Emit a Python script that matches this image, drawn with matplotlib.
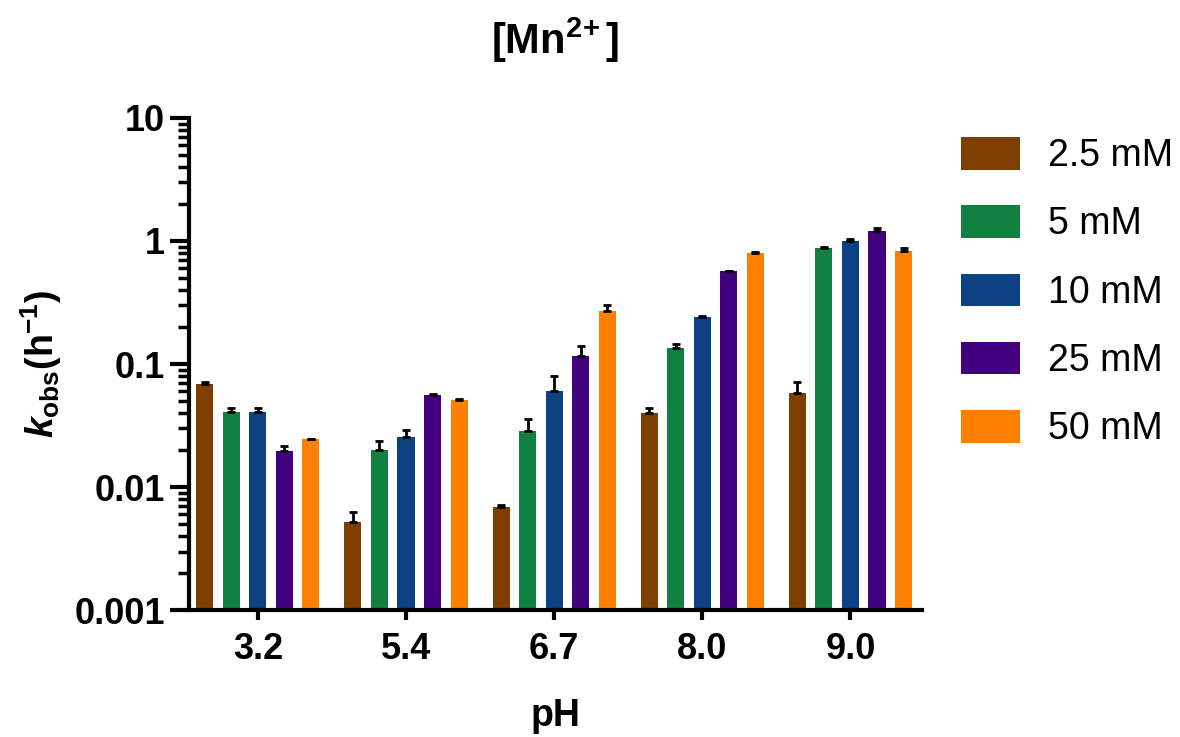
"""
Bar chart of k_obs vs pH for several [Mn2+] concentrations (log scale).
"""

import matplotlib
matplotlib.use('Agg')
import matplotlib.pyplot as plt
import numpy as np

# ===== DATA =====
ph_labels = ['3.2', '5.4', '6.7', '8.0', '9.0']
conc_labels = ['2.5 mM', '5 mM', '10 mM', '25 mM', '50 mM']
colors = ['#7f3f00', '#108040', '#0c4284', '#42007f', '#ff8000']

k_2p5mM = [0.069, 0.0052, 0.0069, 0.040, 0.058]
k_5mM = [0.041, 0.020, 0.0285, 0.134, 0.885]
k_10mM = [0.041, 0.0257, 0.0605, 0.240, 1.00]
k_25mM = [0.0196, 0.0558, 0.117, 0.571, 1.21]
k_50mM = [0.0247, 0.0508, 0.271, 0.801, 0.836]

# upper error (SD) only, as in the original figure
err_2p5mM = [0.0025, 0.0011, 0.0003, 0.004, 0.013]
err_5mM = [0.0027, 0.0035, 0.007, 0.012, 0.015]
err_10mM = [0.0027, 0.0032, 0.019, 0.005, 0.03]
err_25mM = [0.0019, 0.001, 0.022, 0.004, 0.07]
err_50mM = [0.0, 0.001, 0.032, 0.019, 0.034]

series = [k_2p5mM, k_5mM, k_10mM, k_25mM, k_50mM]
errors = [err_2p5mM, err_5mM, err_10mM, err_25mM, err_50mM]

# ===== FONTS =====
plt.rcParams['font.family'] = ['Liberation Sans', 'DejaVu Sans']
plt.rcParams['font.weight'] = 'bold'
plt.rcParams['mathtext.fontset'] = 'custom'
plt.rcParams['mathtext.rm'] = 'Liberation Sans:bold'
plt.rcParams['mathtext.bf'] = 'Liberation Sans:bold'
plt.rcParams['mathtext.it'] = 'Liberation Sans:italic:bold'
plt.rcParams['mathtext.default'] = 'bf'

fig = plt.figure(figsize=(11.8, 7.37), dpi=100)
ax = fig.add_axes([0.160, 0.172, 0.621, 0.668])

# ===== BARS =====
x = np.arange(len(ph_labels))
pitch = 0.179
width = 0.115
for i, (vals, errs) in enumerate(zip(series, errors)):
    pos = x + (i - 2) * pitch
    ax.bar(pos, vals, width=width, color=colors[i], label=conc_labels[i],
           bottom=0, zorder=2)
    ax.errorbar(pos, vals, yerr=[np.zeros(len(errs)), errs], fmt='none',
                ecolor='black', elinewidth=2, capsize=3.2, capthick=2,
                zorder=3)

# ===== AXES =====
ax.set_yscale('log')
ax.set_ylim(0.001, 10)
ax.set_xlim(-0.466, 4.48)
ax.set_yticks([0.001, 0.01, 0.1, 1, 10])
ax.set_yticklabels(['0.001', '0.01', '0.1', '1', '10'])
ax.set_xticks(x)
ax.set_xticklabels(ph_labels)

for side in ['top', 'right']:
    ax.spines[side].set_visible(False)
for side in ['left', 'bottom']:
    ax.spines[side].set_linewidth(3)

ax.tick_params(axis='y', which='major', length=14, width=3, labelsize=26, pad=3)
ax.tick_params(axis='y', which='minor', length=8, width=2.5)
ax.tick_params(axis='x', which='major', length=7, width=3, labelsize=26, pad=9)
ax.tick_params(axis='x', which='minor', length=0)

ax.set_title(r'[Mn$^{2\!+}$]', fontsize=30, fontweight='bold', pad=46)
ax.set_xlabel('pH', fontsize=27, fontweight='bold', labelpad=22)
ax.set_ylabel(r'$\mathit{k}_{\mathrm{obs}}$(h$^{-1}$)', fontsize=27,
              fontweight='bold', labelpad=8)

# ===== LEGEND =====
leg = ax.legend(loc='upper left', bbox_to_anchor=(961 / 1180, 1 - 137 / 737),
                bbox_transform=fig.transFigure, frameon=False,
                prop={'weight': 'normal', 'size': 27},
                handlelength=1.57, handleheight=0.96, handletextpad=0.75,
                labelspacing=0.83, borderpad=0, borderaxespad=0)

plt.savefig('out.png', dpi=100)
plt.close()
